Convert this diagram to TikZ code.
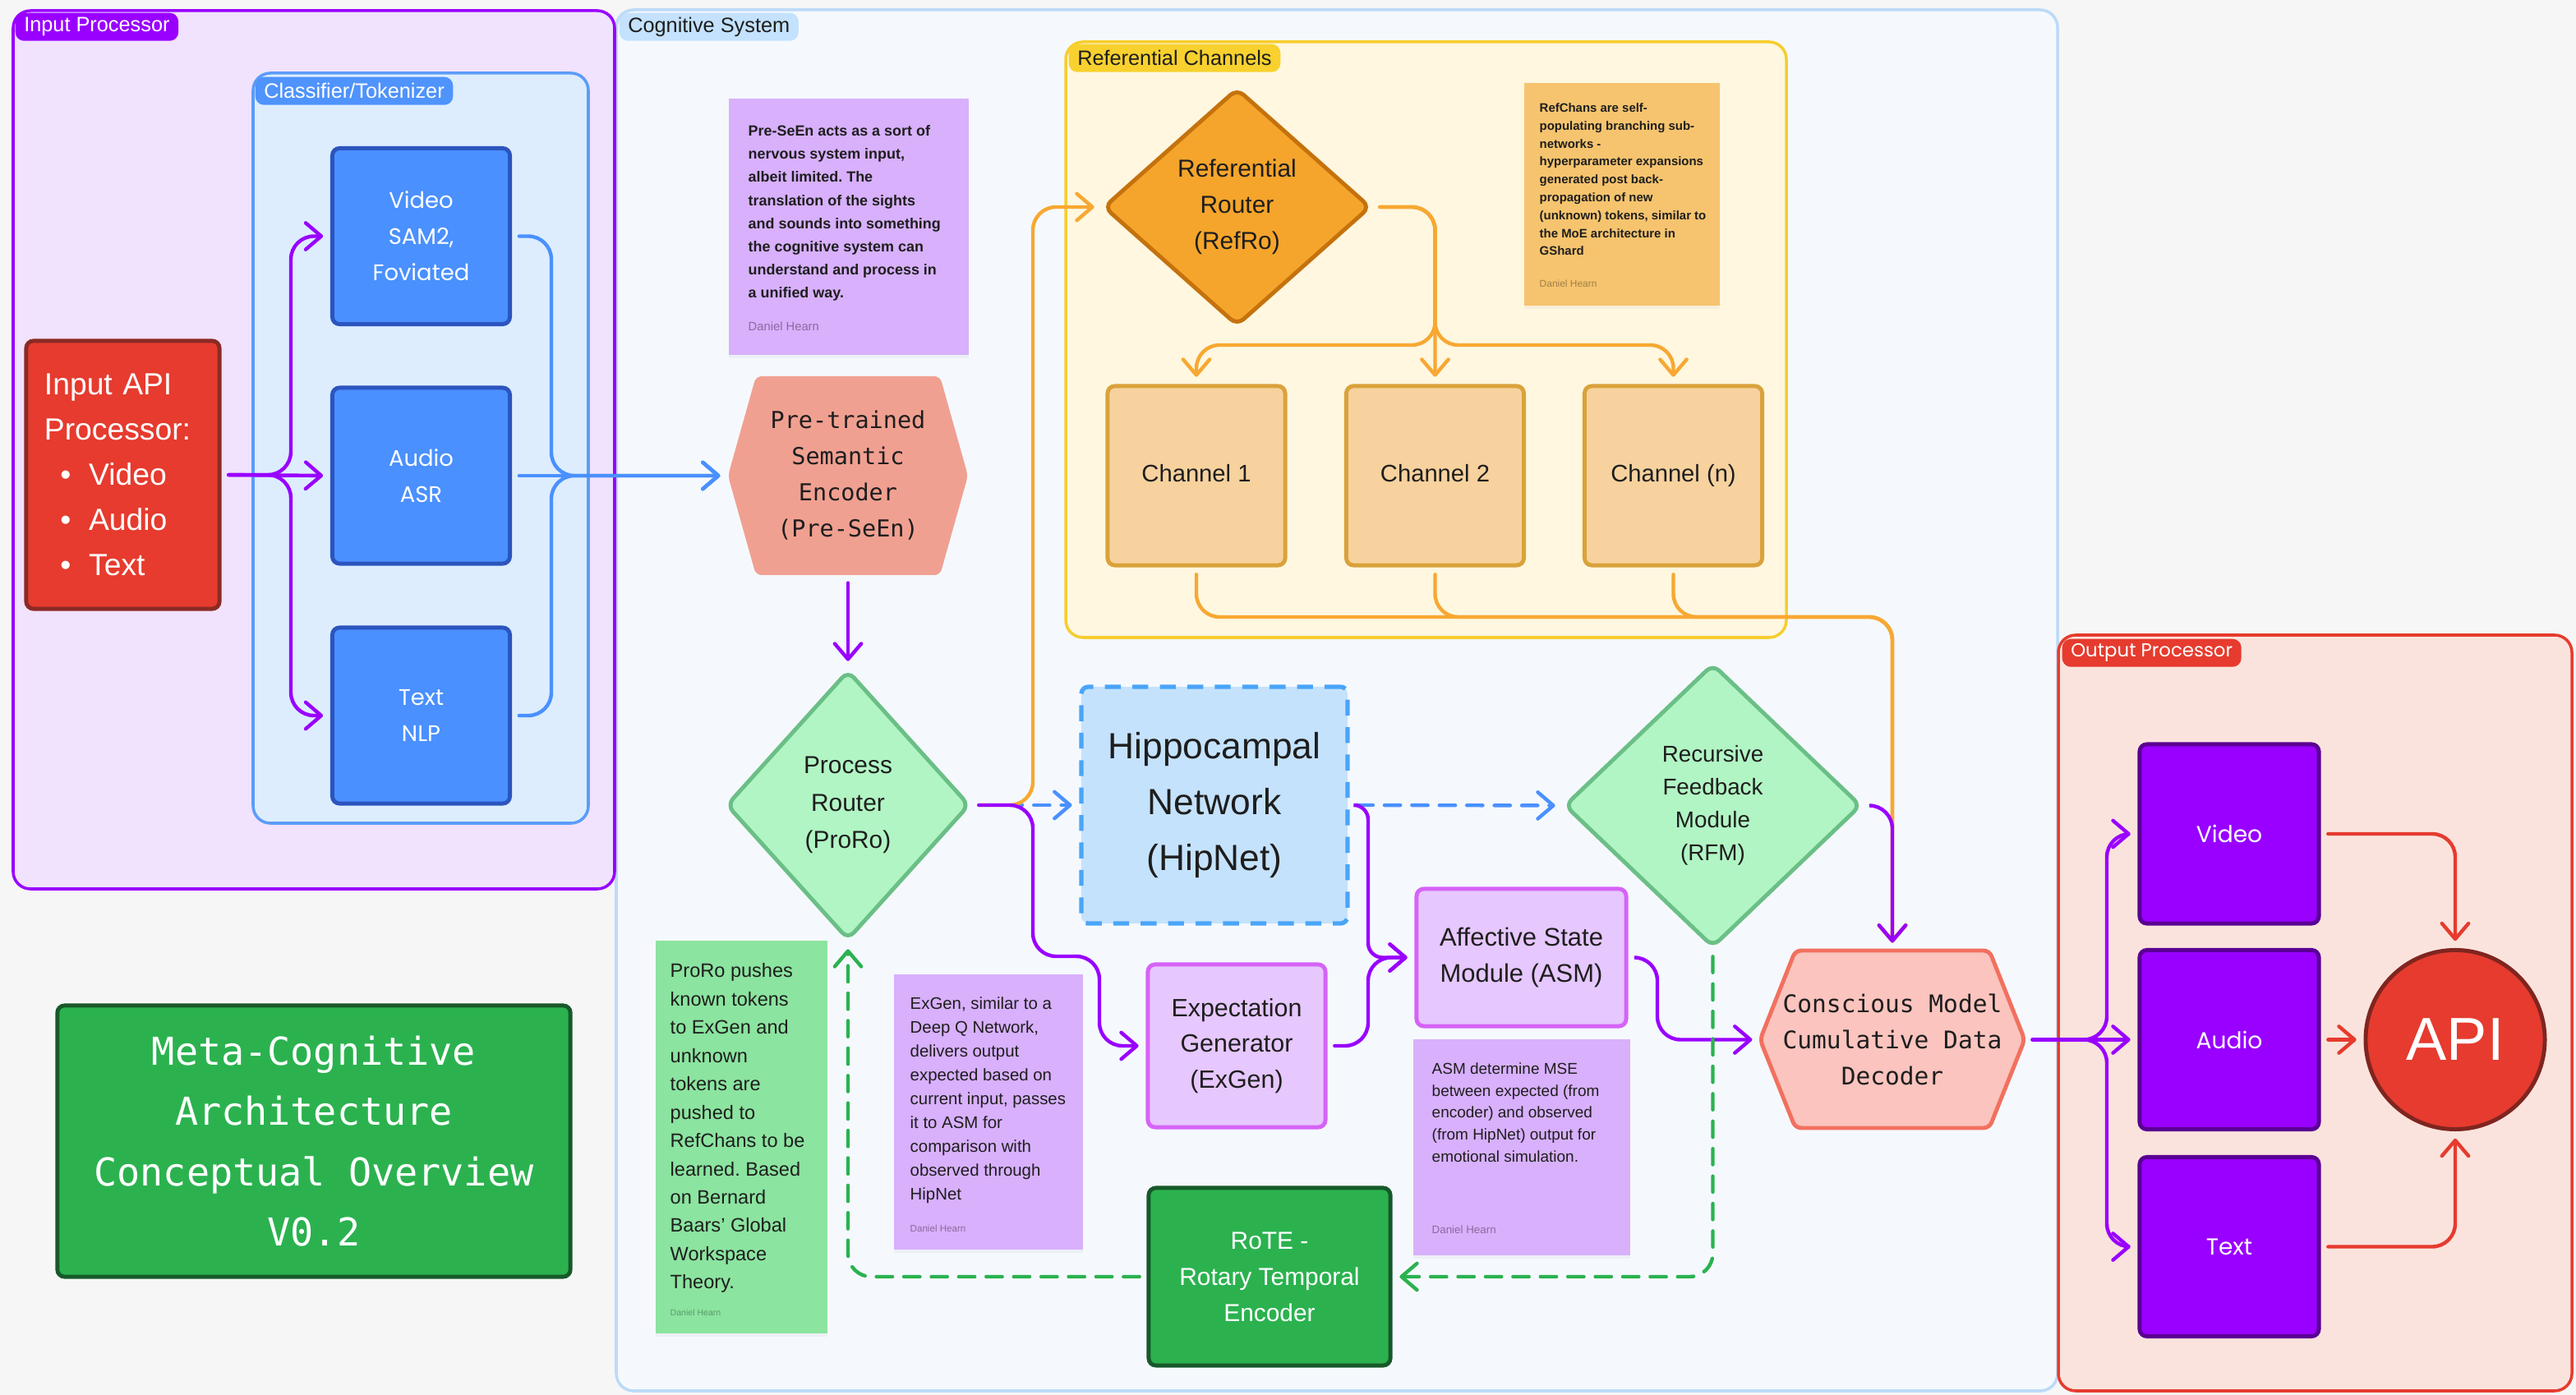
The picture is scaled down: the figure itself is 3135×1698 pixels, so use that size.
\documentclass[tikz,border=0pt]{standalone}
\usepackage{fontspec}
\setmainfont{Liberation Sans}
\newfontfamily\popf{Poppins}
\newfontfamily\monof{DejaVu Sans Mono}
\usetikzlibrary{arrows.meta,shapes.geometric,shadows}
\frenchspacing
\newcommand\fsz[2]{\fontsize{#1pt}{#2pt}\selectfont}
\newcommand\bul{\makebox[15.4pt][l]{\hspace{5.5pt}\textbullet}}
\definecolor{bgC}{HTML}{F6F6F6}
\definecolor{darkT}{HTML}{1E1E1E}
\definecolor{cPurple}{HTML}{9900FF}
\definecolor{inFill}{HTML}{F1E2FD}
\definecolor{cogFill}{HTML}{F5F9FE}
\definecolor{cogLine}{HTML}{BCDAF8}
\definecolor{cogTag}{HTML}{C4E2FD}
\definecolor{clsFill}{HTML}{DDEDFE}
\definecolor{clsLine}{HTML}{5B9CF8}
\definecolor{clsTag}{HTML}{4F93FC}
\definecolor{clsBox}{HTML}{4A90FE}
\definecolor{clsBoxLine}{HTML}{2C54BF}
\definecolor{cRed}{HTML}{E63B2E}
\definecolor{redDark}{HTML}{8A2A24}
\definecolor{refFill}{HTML}{FFF7E0}
\definecolor{refLine}{HTML}{F7CD2E}
\definecolor{refTag}{HTML}{F8D12F}
\definecolor{refroFill}{HTML}{F5A52B}
\definecolor{refroLine}{HTML}{C5720D}
\definecolor{chFill}{HTML}{F7D29E}
\definecolor{chLine}{HTML}{D9A23B}
\definecolor{cOrange}{HTML}{F7A832}
\definecolor{stOrange}{HTML}{F6C46E}
\definecolor{stPurple}{HTML}{D8B0FC}
\definecolor{stGreen}{HTML}{8BE49F}
\definecolor{preFill}{HTML}{F0A091}
\definecolor{grFill}{HTML}{B1F5C4}
\definecolor{grLine}{HTML}{6BBF86}
\definecolor{hipFill}{HTML}{C5E2FD}
\definecolor{hipLine}{HTML}{4AA5F8}
\definecolor{hipArrow}{HTML}{4A90FE}
\definecolor{asmFill}{HTML}{E6C7FE}
\definecolor{asmLine}{HTML}{D663F7}
\definecolor{grDark}{HTML}{2BB24F}
\definecolor{grDarkLine}{HTML}{17592A}
\definecolor{conFill}{HTML}{FBC4BE}
\definecolor{conLine}{HTML}{F2705F}
\definecolor{outFill}{HTML}{FBE3DD}
\definecolor{outLine}{HTML}{5A0094}
\definecolor{apiLine}{HTML}{7F2520}
\definecolor{dhPurple}{HTML}{8A6AA0}
\definecolor{dhOrange}{HTML}{A08048}
\definecolor{dhGreen}{HTML}{5A9A6A}
\begin{document}
\begin{tikzpicture}[x=0.01cm,y=-0.01cm,
  conn/.style={line width=1.25pt, rounded corners=8pt, line cap=round,
     -{Straight Barb[length=5.4pt,width=9.2pt,round]}, shorten >=2.5pt, shorten <=2.5pt},
  dsh/.style={dash pattern=on 5.5pt off 4pt},
  frame/.style={line width=1pt, rounded corners=6pt},
  tag/.style={anchor=north west, rounded corners=3pt, inner xsep=3pt, inner ysep=0pt,
     minimum height=0.34cm, font=\fsz{7.2}{8}},
  box/.style={rectangle, rounded corners=2.5pt, line width=1.4pt, align=center,
     inner sep=0pt, text=darkT},
  chbox/.style={box, fill=chFill, draw=chLine, minimum width=2.16cm, minimum height=2.18cm,
     font=\fsz{8.3}{10}, text height=6.3pt, text depth=1.9pt},
  dia/.style={diamond, rounded corners=3pt, line width=1.4pt, align=center,
     inner sep=0pt, text=darkT},
  sticky/.style={anchor=north west, inner sep=0pt,
     drop shadow={shadow xshift=0pt, shadow yshift=-1.2pt, opacity=0.07}},
  sttext/.style={anchor=north west, inner sep=0pt, align=left, text=darkT},
  dhtext/.style={anchor=west, inner sep=0pt}
]
\fill[bgC] (0,0) rectangle (3135,1698);
\useasboundingbox (0,0) rectangle (3135,1698);

% ---------- frames ----------
\draw[frame, fill=cogFill, draw=cogLine] (750,12) rectangle (2504,1693);
\node[tag, fill=cogTag, text=darkT] (tagcog) at (753,15) {Cognitive System};
\draw[frame, fill=inFill, draw=cPurple] (16,13) rectangle (748,1082);
\node[tag, fill=cPurple, text=white] (tagin) at (18,15) {Input Processor};
\draw[frame, fill=clsFill, draw=clsLine] (308,89) rectangle (716,1002);
\node[tag, fill=clsTag, text=white] (tagcls) at (310,93) {Classifier/Tokenizer};
\draw[frame, fill=refFill, draw=refLine] (1297,51) rectangle (2174,776);
\node[tag, fill=refTag, text=darkT] (tagref) at (1300,53) {Referential Channels};
\draw[frame, fill=outFill, draw=cRed] (2505,773) rectangle (3130,1693);
\node[tag, fill=cRed, text=white, font=\popf\fsz{6.5}{8}] (tagout) at (2509,777) {Output Processor};

% ---------- input side ----------
\node[box, fill=cRed, draw=redDark, text=white, minimum height=3.26cm,
  text width=1.91cm, inner xsep=0.22cm, align=left, font=\fsz{10.6}{15.6}]
  (inapi) at (149.5,578) {Input API\\Processor:\\\bul Video\\\bul Audio\\\bul Text};
\node[box, fill=clsBox, draw=clsBoxLine, text=white, minimum width=2.16cm,
  minimum height=2.14cm, font=\popf\fsz{7.8}{12.5}] (vid) at (512.5,287.5) {Video\\SAM2,\\Foviated};
\node[box, fill=clsBox, draw=clsBoxLine, text=white, minimum width=2.16cm,
  minimum height=2.14cm, font=\popf\fsz{7.8}{12.5}] (aud) at (512.5,579) {Audio\\ASR};
\node[box, fill=clsBox, draw=clsBoxLine, text=white, minimum width=2.16cm,
  minimum height=2.14cm, font=\popf\fsz{7.8}{12.5}] (txt) at (512.5,871) {Text\\NLP};

% ---------- title ----------
\node[box, fill=grDark, draw=grDarkLine, text=white, minimum width=6.24cm,
  minimum height=3.30cm, font=\monof\fsz{13.3}{20.8}] (title) at (382,1389)
  {Meta-Cognitive\\Architecture\\Conceptual Overview\\V0.2};

% ---------- sticky notes ----------
\node[sticky, fill=stPurple, minimum width=2.92cm, minimum height=3.12cm] (stpre) at (886,119) {};
\node[sttext, font=\fsz{5.1}{8}\bfseries] (stpretxt) at (910,152)
  {Pre-SeEn acts as a sort of\\nervous system input,\\albeit limited. The\\translation of the sights\\and sounds into something\\the cognitive system can\\understand and process in\\a unified way.};
\node[dhtext, font=\fsz{4.2}{5}, text=dhPurple] (stpredh) at (910,397) {Daniel Hearn};

\node[sticky, fill=stOrange, minimum width=2.38cm, minimum height=2.71cm] (stref) at (1854,100) {};
\node[sttext, font=\fsz{4.25}{6.2}\bfseries] (streftxt) at (1873,125)
  {RefChans are self-\\populating branching sub-\\networks -\\hyperparameter expansions\\generated post back-\\propagation of new\\(unknown) tokens, similar to\\the MoE architecture in\\GShard};
\node[dhtext, font=\fsz{3.4}{4}, text=dhOrange] (strefdh) at (1873,345) {Daniel Hearn};

\node[sticky, fill=stGreen, minimum width=2.09cm, minimum height=4.78cm] (stpro) at (797,1144) {};
\node[sttext, font=\fsz{6.7}{9.8}] (stprotxt) at (815,1172)
  {ProRo pushes\\known tokens\\to ExGen and\\unknown\\tokens are\\pushed to\\RefChans to be\\learned. Based\\on Bernard\\Baars’ Global\\Workspace\\Theory.};
\node[dhtext, font=\fsz{3}{4}, text=dhGreen] (stprodh) at (815,1598) {Daniel Hearn};

\node[sticky, fill=stPurple, minimum width=2.30cm, minimum height=3.35cm] (stex) at (1087,1185) {};
\node[sttext, font=\fsz{5.8}{8.25}] (stextxt) at (1107,1213)
  {ExGen, similar to a\\Deep Q Network,\\delivers output\\expected based on\\current input, passes\\it to ASM for\\comparison with\\observed through\\HipNet};
\node[dhtext, font=\fsz{3.3}{4}, text=dhPurple] (stexdh) at (1107,1495) {Daniel Hearn};

\node[sticky, fill=stPurple, minimum width=2.64cm, minimum height=2.63cm] (stasm) at (1719,1264) {};
\node[sttext, font=\fsz{5.4}{7.6}] (stasmtxt) at (1742,1293)
  {ASM determine MSE\\between expected (from\\encoder) and observed\\(from HipNet) output for\\emotional simulation.};
\node[dhtext, font=\fsz{3.8}{4}, text=dhPurple] (stasmdh) at (1742,1497) {Daniel Hearn};

% ---------- cognitive nodes ----------
\fill[preFill, rounded corners=2pt] (886,579) -- (920,458) -- (1144,458) -- (1178,579)
  -- (1144,700) -- (920,700) -- cycle;
\node[minimum width=2.92cm, minimum height=2.42cm, inner sep=0pt, align=center,
  font=\monof\fsz{8.1}{12.5}, text=darkT] (pre) at (1032,579)
  {Pre-trained\\Semantic\\Encoder\\(Pre-SeEn)};

\node[dia, fill=refroFill, draw=refroLine, minimum width=3.25cm, minimum height=2.89cm,
  font=\fsz{8.5}{12.5}] (refro) at (1505.5,252) {Referential\\Router\\(RefRo)};
\node[chbox] (ch1) at (1456,579) {Channel 1};
\node[chbox] (ch2) at (1746.5,579) {Channel 2};
\node[chbox] (chn) at (2036.5,579) {Channel (n)};

\node[dia, fill=grFill, draw=grLine, minimum width=2.96cm, minimum height=3.28cm,
  font=\fsz{8.5}{13}] (proro) at (1032,980) {Process\\Router\\(ProRo)};
\node[box, fill=hipFill, draw=hipLine, dsh, line width=1.5pt, minimum width=3.24cm,
  minimum height=2.88cm, font=\fsz{12.6}{19.3}] (hip) at (1478,980) {Hippocampal\\Network\\(HipNet)};
\node[dia, fill=grFill, draw=grLine, minimum width=3.61cm, minimum height=3.45cm,
  font=\fsz{7.9}{11.4}] (rfm) at (2084.5,980.5) {Recursive\\Feedback\\Module\\(RFM)};
\node[box, fill=asmFill, draw=asmLine, minimum width=2.55cm, minimum height=1.67cm,
  font=\fsz{8.8}{12.3}] (asm) at (1851.5,1165.5) {Affective State\\Module (ASM)};
\node[box, fill=asmFill, draw=asmLine, minimum width=2.16cm, minimum height=1.98cm,
  font=\fsz{8.65}{12.3}] (exgen) at (1505,1273) {Expectation\\Generator\\(ExGen)};
\node[box, fill=grDark, draw=grDarkLine, text=white, minimum width=2.94cm,
  minimum height=2.16cm, font=\fsz{8.5}{12.5}] (rote) at (1545,1554) {RoTE -\\Rotary Temporal\\Encoder};

\filldraw[fill=conFill, draw=conLine, line width=1.4pt, rounded corners=2pt]
  (2142,1265.5) -- (2185,1157) -- (2421,1157) -- (2464,1265.5) -- (2421,1373) -- (2185,1373) -- cycle;
\node[minimum width=3.22cm, minimum height=2.17cm, inner sep=0pt, align=center,
  font=\monof\fsz{8.4}{12.5}, text=darkT] (con) at (2303,1265.5)
  {Conscious Model\\Cumulative Data\\Decoder};

% ---------- output side ----------
\node[box, fill=cPurple, draw=outLine, text=white, minimum width=2.18cm, minimum height=2.18cm,
  font=\popf\fsz{8}{10}] (ovid) at (2713,1015) {Video};
\node[box, fill=cPurple, draw=outLine, text=white, minimum width=2.18cm, minimum height=2.18cm,
  font=\popf\fsz{8}{10}] (oaud) at (2713,1265.5) {Audio};
\node[box, fill=cPurple, draw=outLine, text=white, minimum width=2.18cm, minimum height=2.18cm,
  font=\popf\fsz{8}{10}] (otxt) at (2713,1517.5) {Text};
\node[circle, fill=cRed, draw=apiLine, line width=1.4pt, minimum size=2.18cm, inner sep=0pt,
  text=white, font=\fsz{21}{24}] (api) at (2988,1265.5) {API};

% ---------- connectors ----------
\coordinate (inbr) at (354,578);
\draw[conn, cPurple] (inapi.east) -- (inbr) |- (vid.west);
\draw[conn, cPurple] (inapi.east) -- (aud.west);
\draw[conn, cPurple] (inapi.east) -- (inbr) |- (txt.west);

\coordinate (clbr) at (671,579);
\draw[conn, clsBox] (vid.east) -| (clbr) -- (pre.west);
\draw[conn, clsBox] (aud.east) -- (pre.west);
\draw[conn, clsBox] (txt.east) -| (clbr) -- (pre.west);

\draw[conn, cPurple] (pre.south) -- (proro.north);

\draw[conn, dsh, hipArrow] (proro.east) -- (hip.west);
\draw[conn, cOrange] (proro.east) -| (1257,252) -- (refro.west);
\draw[conn, cPurple] (proro.east) -- (1257,980) -- (1257,1164) -- (1338,1164) |- (exgen.west);

\draw[conn, dsh, hipArrow] (hip.east) -- (rfm.west);
\draw[conn, cPurple, rounded corners=5pt] (hip.east) -| (1665,1165.5) -- (asm.west);
\draw[conn, cPurple] (exgen.east) -| (1665,1165.5) -- (asm.west);

\draw[conn, cOrange] (refro.east) -| (1746.5,420) -| (ch1.north);
\draw[conn, cOrange] (refro.east) -| (ch2.north);
\draw[conn, cOrange] (refro.east) -| (1746.5,420) -| (chn.north);

\draw[conn, cOrange] (ch1.south) |- (2303,751) -- (con.north);
\draw[conn, cOrange] (ch2.south) |- (2303,751) -- (con.north);
\draw[conn, cOrange] (chn.south) |- (2303,751) -- (con.north);

\draw[conn, cPurple] (asm.east) -| (2017,1265.5) -- (con.west);
\draw[conn, cPurple] (rfm.east) -| (con.north);

\draw[conn, dsh, grDark] (rfm.south) |- (rote.east);
\draw[conn, dsh, grDark] (rote.west) -| (proro.south);

\draw[conn, cPurple] (con.east) -- (2564,1265.5) |- (ovid.west);
\draw[conn, cPurple] (con.east) -- (oaud.west);
\draw[conn, cPurple] (con.east) -- (2564,1265.5) |- (otxt.west);

\draw[conn, cRed] (ovid.east) -| (api.north);
\draw[conn, cRed] (oaud.east) -- (api.west);
\draw[conn, cRed] (otxt.east) -| (api.south);
\end{tikzpicture}
\end{document}
